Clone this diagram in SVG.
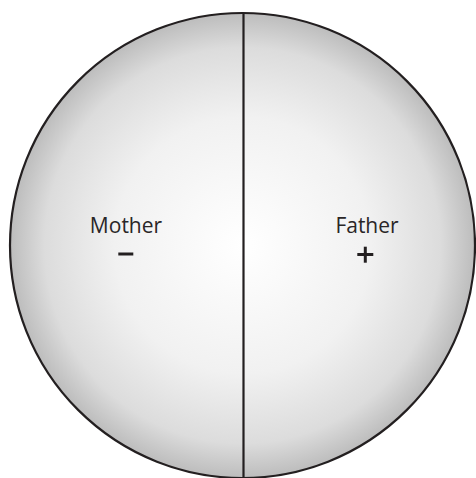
<svg xmlns="http://www.w3.org/2000/svg" width="476" height="478" viewBox="0 0 476 478">
<defs>
<radialGradient id="g" cx="242.5" cy="245.5" r="233" gradientUnits="userSpaceOnUse">
<stop offset="0" stop-color="#ffffff"/>
<stop offset="0.55" stop-color="#f1f1f1"/>
<stop offset="0.85" stop-color="#dcdcdc"/>
<stop offset="1" stop-color="#bcbcbc"/>
</radialGradient>
<style>
.lbl{font-family:"Open Sans","Liberation Sans",sans-serif;font-size:21px;fill:#2a2627;text-anchor:middle}
.ln{stroke:#231f20;stroke-width:2.2;fill:none}
.sg{stroke:#231f20;stroke-width:3;fill:none}
</style>
</defs>
<g id="cell">
<circle cx="242.5" cy="245.5" r="232.5" fill="url(#g)" stroke="#231f20" stroke-width="2.2"/>
</g>
<g id="connectors">
<line class="ln" x1="243.5" y1="13" x2="243.5" y2="478"/>
</g>
<g id="mother">
<text class="lbl" x="126" y="233">Mother</text>
<line class="sg" x1="118.3" y1="254" x2="133.3" y2="254"/>
</g>
<g id="father">
<text class="lbl" x="367" y="233">Father</text>
<line class="sg" x1="357.3" y1="254.5" x2="373.3" y2="254.5"/>
<line class="sg" x1="365.3" y1="246.7" x2="365.3" y2="262.7"/>
</g>
</svg>
